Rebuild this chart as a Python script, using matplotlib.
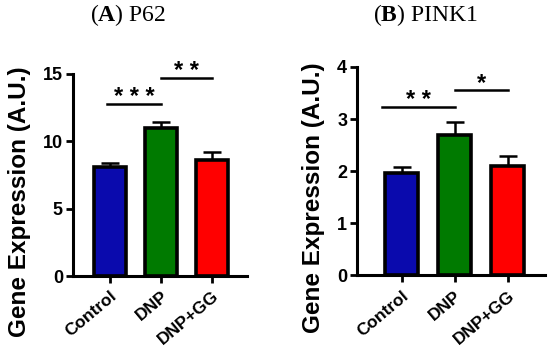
import matplotlib.pyplot as plt

groups = ["Control", "DNP", "DNP+GG"]
colors = ["#0a0aad", "#007a00", "#ff0000"]

p62_mean = [8.1, 11.0, 8.6]
p62_err = [0.3, 0.4, 0.6]
pink1_mean = [1.96, 2.70, 2.09]
pink1_err = [0.11, 0.25, 0.21]

# (x0, x1, y, label)
p62_sig = [(-0.05, 1.0, 12.8, "* * *"), (1.0, 2.0, 14.7, "* *")]
pink1_sig = [(-0.38, 1.0, 3.23, "* *"), (1.0, 2.0, 3.55, "*")]

plt.rcParams["font.family"] = ["Liberation Sans", "DejaVu Sans"]
plt.rcParams["mathtext.fontset"] = "custom"
plt.rcParams["mathtext.rm"] = "Liberation Serif"
plt.rcParams["mathtext.bf"] = "Liberation Serif:bold"

fig = plt.figure(figsize=(5.5, 3.5), dpi=100)
ax1 = fig.add_axes([0.132, 0.211, 0.317, 0.578])
ax2 = fig.add_axes([0.649, 0.213, 0.342, 0.596])


def draw_panel(ax, means, errs, sig, ylim, yticks, xlim):
    x = list(range(len(groups)))
    ax.bar(x, means, width=0.62, color=colors, edgecolor="black", linewidth=2.6, zorder=2)
    ax.errorbar(x, means, yerr=[[0] * len(errs), errs], fmt="none", ecolor="black",
                elinewidth=1.8, capsize=6.5, capthick=1.8, zorder=1)
    ax.set_xlim(*xlim)
    ax.set_ylim(*ylim)
    ax.set_yticks(yticks)
    ax.set_xticks(x)
    ax.set_xticklabels(groups, rotation=40, ha="right", rotation_mode="anchor",
                       fontweight="bold", fontsize=12.5)
    ax.set_yticklabels([str(t) for t in yticks], fontweight="bold", fontsize=13)
    for side in ("top", "right"):
        ax.spines[side].set_visible(False)
    for side in ("left", "bottom"):
        ax.spines[side].set_linewidth(2.2)
    ax.tick_params(width=2.0, length=5, direction="out", pad=2)
    ax.tick_params(axis="x", pad=4)
    ax.set_ylabel("Gene Expression (A.U.)", fontweight="bold", fontsize=17.5)

    for x0, x1, y, lab in sig:
        ax.plot([x0, x1], [y, y], color="black", linewidth=1.8, clip_on=False)
        ax.annotate(lab, ((x0 + x1) / 2, y), xytext=(0, 0), textcoords="offset points",
                    ha="center", va="baseline", fontsize=17, fontweight="bold",
                    annotation_clip=False)


draw_panel(ax1, p62_mean, p62_err, p62_sig, (0, 15), [0, 5, 10, 15], (-0.73, 2.69))
draw_panel(ax2, pink1_mean, pink1_err, pink1_sig, (0, 4), [0, 1, 2, 3, 4], (-0.85, 2.71))
ax1.yaxis.set_label_coords(-0.24, 0.37)
ax2.yaxis.set_label_coords(-0.17, 0.373)

fig.text(0.233, 0.957, r"($\mathbf{A}$) P62", ha="center", va="center", fontsize=17,
         family="Liberation Serif")
fig.text(0.773, 0.957, r"($\mathbf{B}$) PINK1", ha="center", va="center", fontsize=17,
         family="Liberation Serif")

fig.savefig("out.png", dpi=100)
